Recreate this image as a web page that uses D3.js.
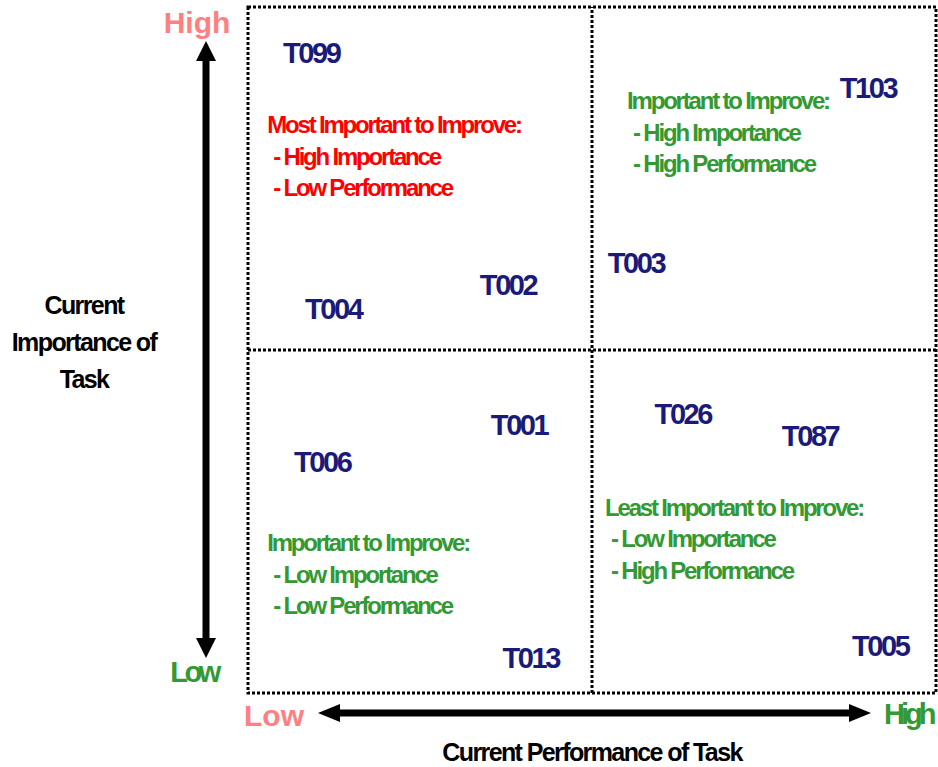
<!DOCTYPE html>
<html>
<head>
<meta charset="utf-8">
<script src="https://d3js.org/d3.v7.min.js"></script>
<style>
  body { margin: 0; background: #fff; }
  text { font-family: "Liberation Sans", Arial, sans-serif; font-weight: bold; }
</style>
</head>
<body>
<svg id="chart" width="938" height="767"></svg>
<script>
// task codes and their position: performance (x) and importance (y), 0-10
var tasks = ["T099", "T103", "T003", "T002", "T004", "T001", "T006", "T026", "T087", "T013", "T005"];
var performance = [0.92, 9.01, 5.64, 3.78, 1.24, 3.94, 1.08, 6.32, 8.17, 4.11, 9.19];
var importance = [9.34, 8.82, 6.28, 5.95, 5.60, 3.91, 3.38, 4.08, 3.75, 0.52, 0.69];

// quadrant notes
var noteLines = [
    ["Most Important to Improve:", "- High Importance", "- Low Performance"],
    ["Important to Improve:", "- High Importance", "- High Performance"],
    ["Important to Improve:", "- Low Importance", "- Low Performance"],
    ["Least Important to Improve:", "- Low Importance", "- High Performance"]
];
var noteX = [0.28, 5.51, 0.28, 5.19];
var noteY = [8.28, 8.63, 2.19, 2.71];
var noteColors = ["#ff0000", "#339933", "#339933", "#339933"];

var svg = d3.select("#chart"),
    margin = { top: 7, right: 2, bottom: 74, left: 248 },
    width = svg.attr("width") - margin.left - margin.right,
    height = svg.attr("height") - margin.top - margin.bottom;

var x = d3.scaleLinear().domain([0, 10]).range([0, width]);
var y = d3.scaleLinear().domain([0, 10]).range([height, 0]);

var g = svg.append("g")
    .attr("transform", "translate(" + margin.left + "," + margin.top + ")");

// dotted frame and mid lines
var dotted = { stroke: "#000", "stroke-width": 3, "stroke-dasharray": "3,2", fill: "none" };
function applyAttrs(sel, o) { Object.keys(o).forEach(function (k) { sel.attr(k, o[k]); }); return sel; }

applyAttrs(g.append("rect")
    .attr("x", x(0)).attr("y", y(10))
    .attr("width", x(10) - x(0)).attr("height", y(0) - y(10)), dotted);
applyAttrs(g.append("line")
    .attr("x1", x(5)).attr("x2", x(5)).attr("y1", y(0)).attr("y2", y(10)), dotted);
applyAttrs(g.append("line")
    .attr("x1", x(0)).attr("x2", x(10)).attr("y1", y(5)).attr("y2", y(5)), dotted);

// notes
noteLines.forEach(function (lines, i) {
    var t = g.append("text")
        .attr("x", x(noteX[i]))
        .attr("y", y(noteY[i]))
        .attr("fill", noteColors[i])
        .style("font-size", "24px")
        .style("letter-spacing", "-2.2px");
    t.selectAll("tspan")
        .data(lines)
        .enter().append("tspan")
        .attr("x", function (d, j) { return x(noteX[i]) + (j ? 6 : 0); })
        .attr("dy", function (d, j) { return j ? 31.5 : 8.5; })
        .text(function (d) { return d; });
});

// task labels
g.selectAll(".task")
    .data(tasks)
    .enter().append("text")
    .attr("class", "task")
    .attr("x", function (d, i) { return x(performance[i]); })
    .attr("y", function (d, i) { return y(importance[i]); })
    .attr("dy", "0.36em")
    .attr("text-anchor", "middle")
    .attr("fill", "#1a1a78")
    .style("font-size", "29px")
    .style("letter-spacing", "-2.4px")
    .text(function (d) { return d; });

// arrows
var ax = 206, ay = 713;
svg.append("rect").attr("x", ax - 3.5).attr("y", 58).attr("width", 7).attr("height", 582).attr("fill", "#000");
svg.append("path").attr("d", "M" + ax + ",41 L" + (ax - 10) + ",61 L" + (ax + 10) + ",61 Z").attr("fill", "#000");
svg.append("path").attr("d", "M" + ax + ",658 L" + (ax - 10) + ",638 L" + (ax + 10) + ",638 Z").attr("fill", "#000");

svg.append("rect").attr("x", 335).attr("y", ay - 3.5).attr("width", 520).attr("height", 7).attr("fill", "#000");
svg.append("path").attr("d", "M318," + ay + " L340," + (ay - 9) + " L340," + (ay + 9) + " Z").attr("fill", "#000");
svg.append("path").attr("d", "M871," + ay + " L849," + (ay - 9) + " L849," + (ay + 9) + " Z").attr("fill", "#000");

// end labels
svg.append("text").attr("x", 197).attr("y", 33).attr("text-anchor", "middle")
    .attr("fill", "#ff8080").style("font-size", "30px").text("High");
svg.append("text").attr("x", 194).attr("y", 682).attr("text-anchor", "middle")
    .attr("fill", "#339933").style("font-size", "29px").style("letter-spacing", "-3.5px").text("Low");
svg.append("text").attr("x", 244).attr("y", 726)
    .attr("fill", "#ff8080").style("font-size", "30px").text("Low");
svg.append("text").attr("x", 884).attr("y", 724)
    .attr("fill", "#339933").style("font-size", "29px").style("letter-spacing", "-4px").text("High");

// axis titles
svg.append("text").attr("x", 592).attr("y", 761).attr("text-anchor", "middle")
    .attr("fill", "#000").style("font-size", "25px").style("letter-spacing", "-1.6px")
    .text("Current Performance of Task");

var yt = svg.append("text").attr("text-anchor", "middle")
    .attr("fill", "#000").style("font-size", "25px").style("letter-spacing", "-1.6px");
yt.selectAll("tspan")
    .data(["Current", "Importance of", "Task"])
    .enter().append("tspan")
    .attr("x", 84)
    .attr("y", function (d, i) { return 314 + i * 37; })
    .text(function (d) { return d; });
</script>
</body>
</html>
